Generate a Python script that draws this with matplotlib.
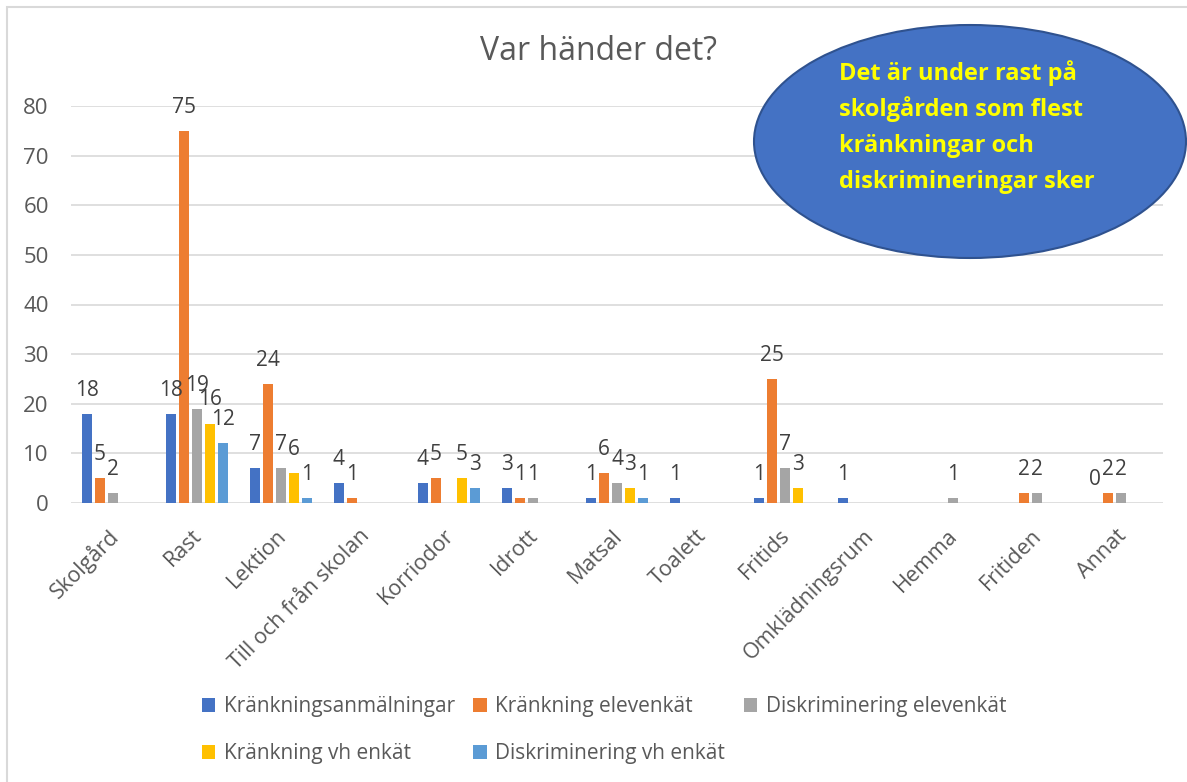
import numpy as np
import matplotlib
matplotlib.use("Agg")
import matplotlib.pyplot as plt
from matplotlib.patches import Ellipse, Patch, Rectangle

plt.rcParams['font.family'] = ['Open Sans', 'DejaVu Sans']

categories = ['Skolgård', 'Rast', 'Lektion', 'Till och från skolan', 'Korriodor',
              'Idrott', 'Matsal', 'Toalett', 'Fritids', 'Omklädningsrum',
              'Hemma', 'Fritiden', 'Annat']

nan = np.nan
anmalningar = [18, 18, 7, 4, 4, 3, 1, 1, 1, 1, nan, nan, 0]
krank_elev = [5, 75, 24, 1, 5, 1, 6, nan, 25, nan, nan, 2, 2]
disk_elev = [2, 19, 7, nan, nan, 1, 4, nan, 7, nan, 1, 2, 2]
krank_vh = [nan, 16, 6, nan, 5, nan, 3, nan, 3, nan, nan, nan, nan]
disk_vh = [nan, 12, 1, nan, 3, nan, 1, nan, nan, nan, nan, nan, nan]

series_names = ['Kränkningsanmälningar', 'Kränkning elevenkät', 'Diskriminering elevenkät',
                'Kränkning vh enkät', 'Diskriminering vh enkät']
series = [anmalningar, krank_elev, disk_elev, krank_vh, disk_vh]
colors = ['#4472C4', '#ED7D31', '#A5A5A5', '#FFC000', '#5B9BD5']

yticks = [0, 10, 20, 30, 40, 50, 60, 70, 80]

W, H = 1187, 782
fig = plt.figure(figsize=(W / 100, H / 100), dpi=100)
ax = fig.add_axes([71 / W, 1 - 503 / H, 1092 / W, 397 / H])

x = np.arange(len(categories))
step = 0.155
width = 0.12
for i, (vals, c) in enumerate(zip(series, colors)):
    v = np.array(vals, dtype=float)
    pos = x + (i - 2) * step
    ax.bar(pos, np.nan_to_num(v), width=width, color=c, zorder=2)
    for p, val in zip(pos, v):
        if np.isnan(val):
            continue
        ax.annotate(f"{int(val)}", (p, val), xytext=(0, 17), textcoords='offset points',
                    ha='center', va='center', fontsize=15, color='#404040', zorder=3)

ax.set_xlim(-0.5, len(categories) - 0.5)
ax.set_ylim(0, 80)
ax.set_yticks(yticks)
ax.yaxis.grid(True, color='#D9D9D9', lw=1.2)
ax.set_axisbelow(True)
for s in ax.spines.values():
    s.set_visible(False)
ax.tick_params(axis='y', length=0, pad=16, labelsize=16, labelcolor='#595959')
ax.set_xticks(x)
ax.set_xticklabels([])
ax.tick_params(axis='x', length=0)

# rotated category labels
for xi, lab in zip(x, categories):
    ax.annotate(lab, (xi, 0), xycoords=('data', 'axes fraction'), xytext=(-4, -16),
                textcoords='offset points', rotation=45, rotation_mode='anchor',
                ha='right', va='top', fontsize=15.5, color='#595959')

fig.text(599 / W, 1 - 52 / H, 'Var händer det?', ha='center', va='center',
         fontsize=23, color='#595959')

# legend, reordered so rows read left to right
handles = [Patch(facecolor=c, edgecolor='none') for c in colors]
order = [0, 3, 1, 4, 2]
fig.legend([handles[i] for i in order], [series_names[i] for i in order],
           ncol=3, loc='center', bbox_to_anchor=(604 / W, 1 - 730 / H),
           frameon=False, fontsize=15, labelcolor='#595959',
           handlelength=0.65, handleheight=0.65, handletextpad=0.4,
           columnspacing=0.9, labelspacing=1.25)

# callout ellipse
ell = Ellipse((970 / W, 1 - 141.5 / H), 432 / W, 233 / H, transform=fig.transFigure,
              facecolor='#4472C4', edgecolor='#2F528F', lw=1.5, zorder=5)
fig.add_artist(ell)
lines = ['Det är under rast på', 'skolgården som flest', 'kränkningar och',
         'diskrimineringar sker']
for k, line in enumerate(lines):
    fig.text(839 / W, 1 - (73 + 36.3 * k) / H, line, ha='left', va='center',
             fontsize=17, fontweight='bold', color='#FFFF00', zorder=6)

# chart area border (left and top edges visible)
fig.add_artist(Rectangle((7 / W, -0.1), 1.2, 1.1 - 7 / H, transform=fig.transFigure,
                         fill=False, edgecolor='#D9D9D9', lw=1.5))

fig.savefig('out.png', dpi=100)
